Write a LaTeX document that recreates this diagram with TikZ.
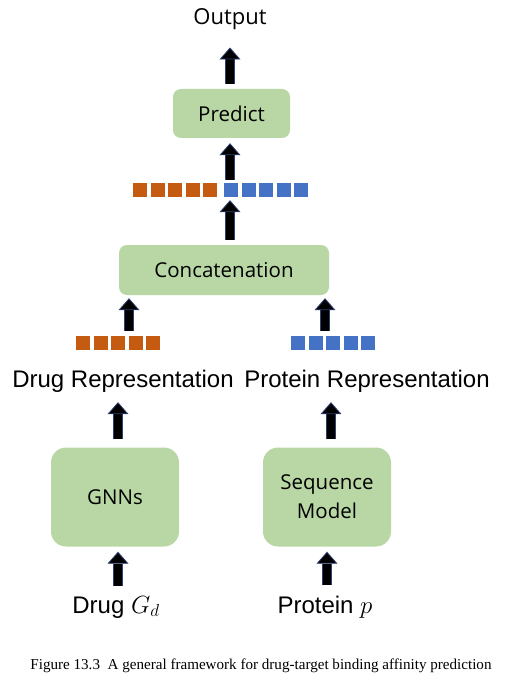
\documentclass[tikz,border=0pt]{standalone}
\usepackage{fontspec}
\setmainfont{Liberation Sans}
\newfontfamily\boxfont{Open Sans}
\newfontfamily\capfont{Liberation Serif}
\usetikzlibrary{arrows.meta, positioning}

\definecolor{boxgreen}{RGB}{184,215,165}
\definecolor{drugorange}{RGB}{197,90,17}
\definecolor{protblue}{RGB}{68,114,196}
\definecolor{arrowedge}{RGB}{47,64,110}

\begin{document}
\begin{tikzpicture}[x=1pt, y=-1pt, every node/.style={font=\fontsize{24}{28}\selectfont, inner sep=0pt},
                    block/.style={fill=boxgreen, rounded corners=8pt, align=center,
                                  font=\boxfont\fontsize{20.5}{29}\selectfont},
                    bigblock/.style={block, rounded corners=15pt, minimum width=128pt, minimum height=99pt},
                    dsq/.style={fill=drugorange, minimum size=14pt},
                    psq/.style={fill=protblue, minimum size=14pt},
                    arr/.style={draw=arrowedge, line width=0.8pt, double=black, double distance=8.6pt,
                                -{Triangle[length=12pt, width=21pt, fill=black]}}]
    \useasboundingbox (0,0) rectangle (516,695);
    % top part
    \node[anchor=base, font=\boxfont\fontsize{22}{26}\selectfont] (out) at (230,25) {Output};
    \node[block, minimum width=117pt, minimum height=49pt] (pred) at (231.5,113.5) {Predict};
    \foreach \i in {0,...,4} {
      \node[dsq] (csd\i) at (140+17.5*\i,190) {};
      \node[psq] (csp\i) at (231+17.5*\i,190) {};
    }
    \node[block, minimum width=210pt, minimum height=50pt] (conc) at (224,270) {Concatenation};
    % representations
    \foreach \i in {0,...,4} {
      \node[dsq] (dsq\i) at (83+17.5*\i,343) {};
      \node[psq] (psq\i) at (298+17.5*\i,343) {};
    }
    \node[anchor=base] (drep) at (123,387) {Drug Representation};
    \node[anchor=base] (prep) at (367,387) {Protein Representation};
    % encoders
    \node[bigblock] (gnn) at (115,497) {GNNs};
    \node[bigblock] (seq) at (327,497) {Sequence\\Model};
    \node[anchor=base] (drug) at (116,613) {Drug $G_d$};
    \node[anchor=base] (prot) at (325,613) {Protein $p$};
    \coordinate (lx) at (129,0);
    \coordinate (rx) at (325,0);
    \coordinate (dx) at (118,0);
    \coordinate (px) at (331,0);
    \coordinate (sx) at (327,0);
    \draw[arr, shorten <=5pt, shorten >=17pt] (pred.north -| out) -- (out.south);
    \draw[arr, shorten <=3pt, shorten >=5pt] (csp0.north -| out) -- (pred.south -| out);
    \draw[arr, shorten <=5pt, shorten >=3pt] (conc.north -| out) -- (csp0.south -| out);
    \draw[arr, shorten <=5pt, shorten >=3pt] (dsq0.north -| lx) -- (conc.south -| lx);
    \draw[arr, shorten <=5pt, shorten >=3pt] (psq0.north -| rx) -- (conc.south -| rx);
    \draw[arr, shorten <=8pt, shorten >=10pt] (gnn.north -| dx) -- (drep.south -| dx);
    \draw[arr, shorten <=8pt, shorten >=10pt] (seq.north -| px) -- (prep.south -| px);
    \draw[arr, shorten <=10pt, shorten >=5pt] (drug.north -| dx) -- (gnn.south -| dx);
    \draw[arr, shorten <=10pt, shorten >=5pt] (prot.north -| sx) -- (seq.south -| sx);
    % caption
    \node[anchor=base, font=\capfont\fontsize{15.1}{18}\selectfont] (cap) at (261,669)
      {Figure 13.3\ \ A general framework for drug-target binding affinity prediction};
  \end{tikzpicture}
\end{document}
